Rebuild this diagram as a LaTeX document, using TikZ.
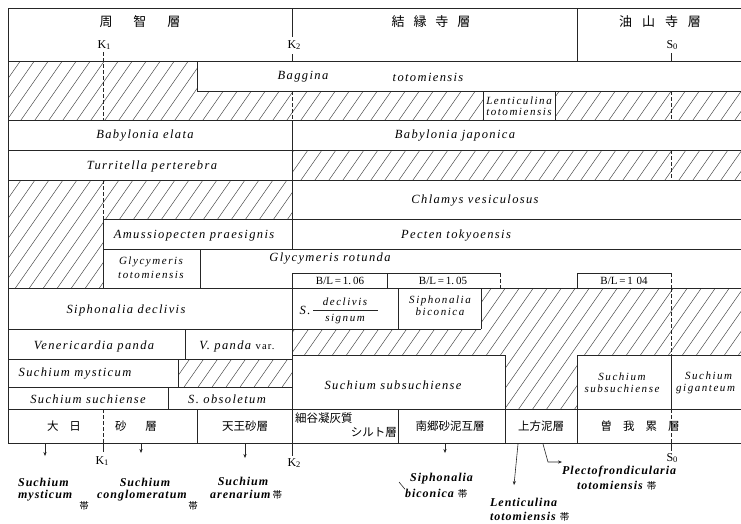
\documentclass[tikz,border=0pt]{standalone}
\usepackage{fontspec}
\setmainfont{Liberation Serif}
\newfontfamily\taxfont[LetterSpace=11]{Liberation Serif}
\newfontfamily\taxsmfont[LetterSpace=14]{Liberation Serif}
\newfontfamily\zonefont[LetterSpace=8]{Liberation Serif}
\newfontfamily\jpfont{Noto Sans CJK JP}
\usetikzlibrary{arrows.meta}

\tikzset{
  rule/.style={draw=black!85, line width=0.6pt},
  boundary/.style={draw=black!85, line width=0.6pt, dash pattern=on 3.5pt off 2.5pt},
  hatchline/.style={draw=black!75, line width=0.45pt},
  taxon/.style={font=\taxfont\itshape\fontsize{12.5}{14}\selectfont, inner sep=0pt},
  taxonsm/.style={font=\taxsmfont\itshape\fontsize{11}{13}\selectfont, inner sep=0pt, align=center},
  zone/.style={font=\zonefont\bfseries\itshape\fontsize{12}{14}\selectfont, inner sep=0pt},
  jphead/.style={font=\jpfont\fontsize{13}{14}\selectfont, inner sep=0pt},
  jprow/.style={font=\jpfont\fontsize{11.5}{13}\selectfont, inner sep=0pt},
  jpzone/.style={font=\jpfont\fontsize{9.5}{10}\selectfont, inner sep=0pt},
  ratio/.style={font=\fontsize{11}{12}\selectfont, inner sep=0pt},
  marker/.style={font=\fontsize{12}{13}\selectfont, inner sep=0pt},
  pointer/.style={draw=black!85, line width=0.6pt, -{Stealth[length=4pt,width=3.2pt]}}
}
\newcommand{\sbt}[1]{\raisebox{-1.8pt}{\fontsize{8.5}{9}\selectfont #1}}
\newcommand{\zonemark}{{\jpfont\mdseries\upshape\fontsize{9.5}{10}\selectfont 帯}}

\begin{document}
\begin{tikzpicture}[x=1pt,y=-1pt]
\useasboundingbox (0,0) rectangle (741,523);
\fill[white] (0,0) rectangle (741,523);

% ---------- hatched ranges (no record) ----------
\begin{scope}
  \clip (8,61) rectangle (197,120)
        (197,91) rectangle (483,120)
        (555,91) rectangle (750,120)
        (292,150) rectangle (750,180)
        (8,180) rectangle (292,219)
        (8,219) rectangle (103,288)
        (481,288) rectangle (750,355)
        (292,329) rectangle (481,355)
        (505,355) rectangle (577,409)
        (178,359) rectangle (292,387);
  \foreach \i in {-420,-406,...,760}
    \draw[hatchline] (\i,530) -- ++(371,-530);
\end{scope}

% ---------- frame and cells ----------
\draw[rule] (750,8) -- (8,8) -- (8,443) -- (750,443);
% header
\draw[rule] (8,61) -- (750,61);
\draw[rule] (292,8) -- (292,37) (292,54) -- (292,61);
\draw[rule] (577,8) -- (577,61);
\draw[rule] (671,53) -- (671,61);
% Baggina / Lenticulina
\draw[rule] (197,61) -- (197,91) -- (750,91);
\draw[rule] (483,91) -- (483,120) (555,91) -- (555,120);
\draw[rule] (8,120) -- (750,120);
% Babylonia
\draw[rule] (292,120) -- (292,150);
\draw[rule] (8,150) -- (750,150);
% Turritella
\draw[rule] (292,150) -- (292,180);
\draw[rule] (8,180) -- (750,180);
% Chlamys
\draw[rule] (292,180) -- (292,219);
\draw[rule] (103,219) -- (750,219);
% Amussiopecten / Pecten
\draw[rule] (103,219) -- (103,288);
\draw[rule] (292,219) -- (292,249);
\draw[rule] (103,249) -- (750,249);
% Glycymeris
\draw[rule] (200,249) -- (200,288);
\draw[rule] (292,288) -- (292,273) -- (500,273);
\draw[rule] (387,273) -- (387,288);
\draw[rule] (577,288) -- (577,273) -- (671,273);
\draw[boundary] (500,273) -- (500,288);
\draw[boundary] (671,273) -- (671,288);
\draw[rule] (8,288) -- (750,288);
% Siphonalia
\draw[rule] (292,288) -- (292,409);
\draw[rule] (398,288) -- (398,329) (481,288) -- (481,329);
\draw[rule] (8,329) -- (481,329);
% Venericardia / Suchium (left)
\draw[rule] (185,329) -- (185,359);
\draw[rule] (8,359) -- (292,359);
\draw[rule] (178,359) -- (178,387);
\draw[rule] (8,387) -- (292,387);
\draw[rule] (168,387) -- (168,409);
% Suchium (right)
\draw[rule] (292,355) -- (505,355) -- (505,409);
\draw[rule] (577,409) -- (577,355) -- (750,355);
\draw[rule] (671,355) -- (671,409);
\draw[rule] (8,409) -- (750,409);
% formation row
\draw[rule] (197,409) -- (197,443) (292,409) -- (292,443) (398,409) -- (398,443)
            (505,409) -- (505,443) (577,409) -- (577,443);

% ---------- boundaries K1, K2, S0 ----------
\draw[boundary] (103,52) -- (103,120);
\draw[boundary] (103,180) -- (103,219);
\draw[boundary] (103,409) -- (103,443);
\draw[boundary] (292,91) -- (292,120);
\draw[boundary] (671,91) -- (671,120);
\draw[boundary] (671,150) -- (671,180);
\draw[boundary] (671,288) -- (671,355);
\draw[boundary] (671,409) -- (671,443);
\draw[rule] (103,443) -- (103,452);
\draw[rule] (292,443) -- (292,456);
\draw[rule] (671,443) -- (671,451);

% ---------- header text ----------
\node[jphead] (shuchi) at (140,22) {周\hspace{21pt}智\hspace{21pt}層};
\node[jphead] (kechienji) at (431,22) {結\hspace{9pt}縁\hspace{9pt}寺\hspace{9pt}層};
\node[jphead] (yusanji) at (660,22) {油\hspace{10pt}山\hspace{10pt}寺\hspace{10pt}層};
\node[marker] (k1top) at (104,45) {K\sbt{1}};
\node[marker] (k2top) at (294,45) {K\sbt{2}};
\node[marker] (s0top) at (672,45) {S\sbt{0}};

% ---------- taxa ----------
\node[taxon] (baggina) at (303,77) {Baggina};
\node[taxon] (bagginaB) at (428,77) {totomiensis};
\node[taxonsm] (lenticulina) at (519,106) {Lenticulina\\[-2.5pt]totomiensis};
\node[taxon] (babyE) at (145,136) {Babylonia elata};
\node[taxon] (babyJ) at (455,136) {Babylonia japonica};
\node[taxon] (turritella) at (152,166) {Turritella perterebra};
\node[taxon] (chlamys) at (475,201) {Chlamys vesiculosus};
\node[taxon] (amussio) at (194,236) {Amussiopecten praesignis};
\node[taxon] (pecten) at (456,236) {Pecten tokyoensis};
\node[taxonsm] (glycyT) at (151,268) {Glycymeris\\[1pt]totomiensis};
\node[taxon] (glycyR) at (330,259) {Glycymeris rotunda};
\node[ratio] (bl106) at (340,281) {B/L\,=\,1.\,06};
\node[ratio] (bl105) at (443,281) {B/L\,=\,1.\,05};
\node[ratio] (bl104) at (624,281) {B/L\,=\,1\,\,04};
\node[taxon] (siphD) at (126,310) {Siphonalia declivis};
\node[taxon] (sS) at (305,310) {S.};
\node[taxonsm] (sDecl) at (345,302) {declivis};
\node[taxonsm] (sSign) at (345,319) {signum};
\draw[rule] (313,310) -- (378,310);
\node[taxonsm] (siphB) at (440,306) {Siphonalia\\[-1pt]biconica};
\node[taxon] (veneri) at (94,346) {Venericardia panda};
\node[taxon] (vpanda) at (237,346) {V. panda {\upshape\fontsize{10.5}{12}\selectfont var.}};
\node[taxon] (smyst) at (75,374) {Suchium mysticum};
\node[taxon] (ssuch) at (88,399) {Suchium suchiense};
\node[taxon] (sobso) at (227,399) {S. obsoletum};
\node[taxon] (ssubL) at (393,385) {Suchium subsuchiense};
\node[taxonsm] (ssubR) at (622,383) {Suchium\\[-1pt]subsuchiense};
\node[taxonsm, anchor=west] (sgiga) at (676,383) {\hspace*{6pt}Suchium\\[-1pt]giganteum};

% ---------- formations ----------
\node[jprow] (dainichiA) at (64,426) {大\hspace{11pt}日};
\node[jprow] (dainichiB) at (136,426) {砂\hspace{19pt}層};
\node[jprow] (tenno) at (245,426) {天王砂層};
\node[jprow, anchor=west] (hosoyaA) at (295,418) {細谷凝灰質};
\node[jprow, anchor=east] (hosoyaB) at (397,432) {シルト層};
\node[jprow] (nango) at (450,426) {南郷砂泥互層};
\node[jprow] (kamikata) at (541,426) {上方泥層};
\node[jprow] (soga) at (640,426) {曽\hspace{11pt}我\hspace{11pt}累\hspace{11pt}層};

% ---------- boundary marks below ----------
\node[marker] (k1bot) at (102,461) {K\sbt{1}};
\node[marker] (k2bot) at (294,463) {K\sbt{2}};
\node[marker] (s0bot) at (672,458) {S\sbt{0}};

% ---------- zones ----------
\node[zone, anchor=west] (zMystA) at (18,482) {Suchium};
\node[zone, anchor=west] (zMystB) at (18,496) {mysticum};
\node[jpzone] (zMystC) at (84,506) {帯};
\node[zone] (zConA) at (145,482) {Suchium};
\node[zone, anchor=west] (zConB) at (97,496) {conglomeratum};
\node[jpzone] (zConC) at (193,506) {帯};
\node[zone] (zAreA) at (243,481) {Suchium};
\node[zone, anchor=west] (zAreB) at (210,495) {arenarium\,\zonemark};
\node[zone, anchor=west] (zSipA) at (410,479) {Siphonalia};
\node[zone, anchor=west] (zSipB) at (405,494) {biconica\hspace{4pt}\zonemark};
\node[zone, anchor=west] (zLenA) at (490,502) {Lenticulina};
\node[zone, anchor=west] (zLenB) at (490,517) {totomiensis\hspace{4pt}\zonemark};
\node[zone, anchor=west] (zPleA) at (562,472) {Plectofrondicularia};
\node[zone, anchor=west] (zPleB) at (577,486) {totomiensis\hspace{4pt}\zonemark};

% ---------- pointers to the zones ----------
\coordinate (pMyst) at (45,444);
\coordinate (pCon) at (141,444);
\coordinate (pAre) at (245,444);
\coordinate (pSip) at (445,444);
\coordinate (pLen) at (518,444);
\coordinate (pPle) at (543,444);
\coordinate (pBend) at (548,462);
\draw[pointer] (pMyst) -- ++(0,12);
\draw[pointer] (pCon) -- ++(0,9);
\draw[pointer] (pAre) -- ++(0,14);
\draw[pointer] (pSip) -- ++(0,9);
\draw[pointer] (pLen) -- (514,485);
\draw[pointer] (pPle) -- (pBend) -- (zPleA.west |- pBend);
\coordinate (tickA) at (399,482);
\draw[rule] (tickA) -- (zSipB.north west);
\end{tikzpicture}
\end{document}
